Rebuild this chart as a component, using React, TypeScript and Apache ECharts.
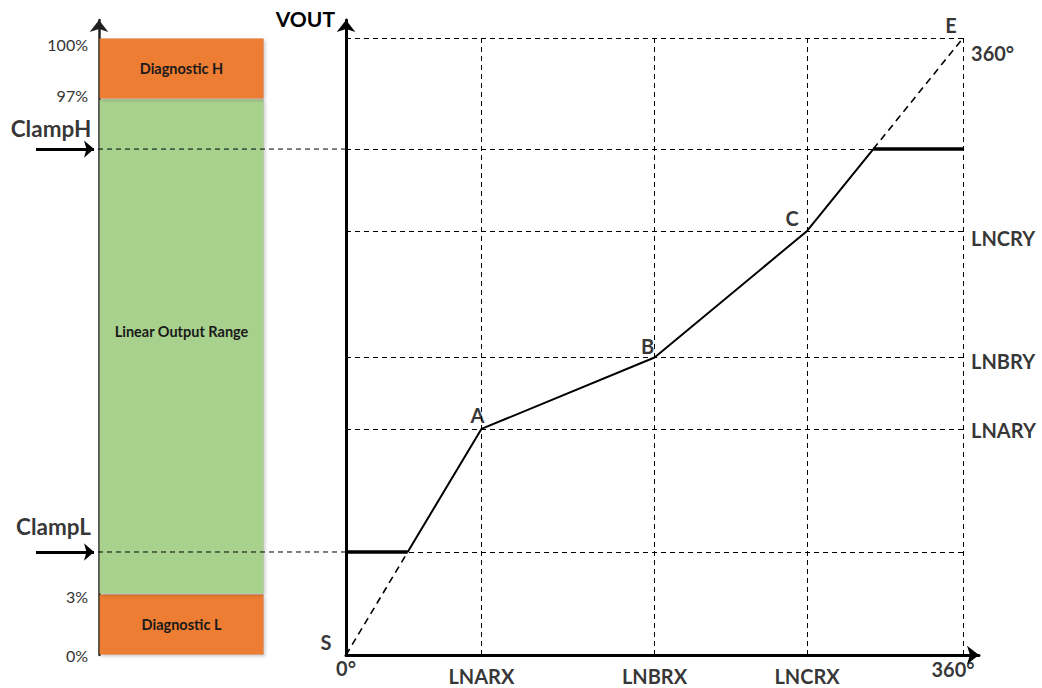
import React, { useEffect, useRef } from "react";
import * as echarts from "echarts";

// ---- data ----
const X_TICKS = [0, 79, 180, 269, 360];
const X_LABELS = ["0°", "LNARX", "LNBRX", "LNCRX", "360°"];

const Y_LEVELS = [360, 247.4, 173.6, 131.9];
const Y_LABELS = ["360°", "LNCRY", "LNBRY", "LNARY"];

const CLAMP_L = 60.1;
const CLAMP_H = 295.2;

const KNOT_NAMES = ["S", "A", "B", "C", "E"];
const KNOT_X = [0, 79, 180, 269, 360];
const KNOT_Y = [0, 131.9, 173.6, 247.4, 360];

const BAR_NAMES = ["Diagnostic L", "Linear Output Range", "Diagnostic H"];
const BAR_VALUES = [35.6, 288.8, 35.6];
const BAR_COLORS = ["#ED7D31", "#A9D18E", "#ED7D31"];

const PCT_TICKS = [0, 35.6, 324.4, 360];
const PCT_LABELS = ["0%", "3%", "97%", "100%"];

const CLAMP_NAMES = ["ClampH", "ClampL"];

const FONT = "Lato";

export default function App() {
  const ref = useRef<HTMLDivElement>(null);

  useEffect(() => {
    if (!ref.current) return;
    const chart = echarts.init(ref.current, null, { renderer: "svg" });

    const ax = KNOT_X[1], ay = KNOT_Y[1];
    const cx = KNOT_X[3], cy = KNOT_Y[3];
    const ex = KNOT_X[4], ey = KNOT_Y[4];
    // where the clamp levels cut the S-A and C-E segments
    const xL = (CLAMP_L * ax) / ay;
    const xH = cx + ((CLAMP_H - cy) * (ex - cx)) / (ey - cy);

    const bold = { fontFamily: FONT, fontWeight: "bold" as const, fontSize: 20, color: "#000" };

    const solidData = [[xL, CLAMP_L]]
      .concat([1, 2, 3].map((i) => [KNOT_X[i], KNOT_Y[i]]))
      .concat([[xH, CLAMP_H]]);

    const knotOffsets: Record<string, number[]> = {
      S: [-20, -13],
      A: [-4, -14],
      B: [-7, -11],
      C: [-15, -13],
      E: [-12, -13],
    };
    const rightOffsets = [15, 7, 4, 1];
    const xLabelOffsets = [
      [0, 13],
      [0, 21],
      [0, 21],
      [0, 21],
      [-10, 14],
    ];

    const gridLines: any[] = [];
    [Y_LEVELS[0], CLAMP_H, Y_LEVELS[1], Y_LEVELS[2], Y_LEVELS[3], CLAMP_L].forEach((v) =>
      gridLines.push([{ coord: [0, v] }, { coord: [360, v] }])
    );
    X_TICKS.slice(1).forEach((x) => gridLines.push([{ coord: [x, 0] }, { coord: [x, 360] }]));

    const pctPad = [
      [0, 0, 0, 0],
      [6, 0, 0, 0],
      [0, 0, 8, 0],
      [14, 0, 0, 0],
    ];

    const axisArrow = {
      show: true,
      symbol: ["none", "arrow"],
      symbolSize: [14, 12],
      lineStyle: { color: "#000", width: 3 },
    };

    const option: any = {
      animation: false,
      grid: [
        { left: 346, right: 63, top: 20, bottom: 33 },
        { left: 99, width: 165, top: 20, bottom: 33 },
        { left: 0, right: 0, top: 20, bottom: 33 },
      ],
      xAxis: [
        {
          gridIndex: 0,
          type: "value",
          min: 0,
          max: 369.3,
          axisLine: axisArrow,
          axisTick: { show: false },
          splitLine: { show: false },
          axisLabel: { show: false },
        },
        { gridIndex: 1, type: "category", data: ["out"], show: false },
        { gridIndex: 2, type: "value", min: 0, max: 1042, show: false },
      ],
      yAxis: [
        {
          gridIndex: 0,
          type: "value",
          min: 0,
          max: 370.5,
          name: "VOUT",
          nameLocation: "end",
          nameGap: 1.5,
          nameTextStyle: { ...bold, fontSize: 21, align: "right", verticalAlign: "middle", padding: [0, 11, 0, 0] },
          axisLine: axisArrow,
          axisTick: { show: false },
          splitLine: { show: false },
          axisLabel: { show: false },
        },
        {
          gridIndex: 1,
          type: "value",
          min: 0,
          max: 370.5,
          axisLine: { ...axisArrow, lineStyle: { color: "#222", width: 2.5 } },
          axisTick: { show: false },
          splitLine: { show: false },
          axisLabel: {
            customValues: PCT_TICKS,
            margin: 11,
            formatter: (v: number) => {
              const i = PCT_TICKS.indexOf(v);
              return "{p" + i + "|" + (PCT_LABELS[i] ?? "") + "}";
            },
            rich: Object.fromEntries(
              PCT_TICKS.map((_, i) => [
                "p" + i,
                { fontFamily: FONT, fontSize: 16, color: "#333", padding: pctPad[i] },
              ])
            ),
          },
        },
        { gridIndex: 2, type: "value", min: 0, max: 370.5, show: false },
      ],
      series: [
        // left bar
        ...BAR_NAMES.map((name, i) => ({
          type: "bar",
          name,
          xAxisIndex: 1,
          yAxisIndex: 1,
          stack: "bar",
          barWidth: "100%",
          data: [BAR_VALUES[i]],
          itemStyle: {
            color: BAR_COLORS[i],
            borderColor: "rgba(0,0,0,0.08)",
            borderWidth: 1,
            shadowBlur: 3,
            shadowColor: "rgba(0,0,0,0.18)",
            shadowOffsetX: 2,
            shadowOffsetY: 2,
          },
          label: {
            show: true,
            position: "inside",
            formatter: name,
            fontFamily: FONT,
            fontWeight: "bold",
            fontSize: 14.5,
            color: "#1a1a1a",
            offset: i === 1 ? [0, -15] : [0, 0],
          },
          z: 2,
        })),
        // solid transfer curve
        {
          type: "line",
          xAxisIndex: 0,
          yAxisIndex: 0,
          data: solidData,
          symbol: "none",
          lineStyle: { color: "#000", width: 2 },
          z: 4,
          markLine: {
            silent: true,
            symbol: ["none", "none"],
            label: { show: false },
            lineStyle: { color: "#000", width: 1, type: [5, 4] },
            data: gridLines,
            z: 3,
          },
        },
        // clamps
        {
          type: "line",
          xAxisIndex: 0,
          yAxisIndex: 0,
          data: [[0, CLAMP_L], [xL, CLAMP_L]],
          symbol: "none",
          lineStyle: { color: "#000", width: 3.5 },
          z: 4,
        },
        {
          type: "line",
          xAxisIndex: 0,
          yAxisIndex: 0,
          data: [[xH, CLAMP_H], [360, CLAMP_H]],
          symbol: "none",
          lineStyle: { color: "#000", width: 3.5 },
          z: 4,
        },
        // dashed unclamped parts
        {
          type: "line",
          xAxisIndex: 0,
          yAxisIndex: 0,
          data: [[KNOT_X[0], KNOT_Y[0]], [xL, CLAMP_L]],
          symbol: "none",
          lineStyle: { color: "#000", width: 1.6, type: [7, 5] },
          z: 4,
        },
        {
          type: "line",
          xAxisIndex: 0,
          yAxisIndex: 0,
          data: [[xH, CLAMP_H], [ex, ey]],
          symbol: "none",
          lineStyle: { color: "#000", width: 1.6, type: [7, 5] },
          z: 4,
        },
        // knot labels
        {
          type: "scatter",
          xAxisIndex: 0,
          yAxisIndex: 0,
          symbolSize: 0,
          silent: true,
          data: KNOT_NAMES.map((n, i) => ({
            value: [KNOT_X[i], KNOT_Y[i]],
            name: n,
            label: { offset: knotOffsets[n] },
          })),
          label: { show: true, position: "inside", formatter: "{b}", ...bold },
          z: 6,
        },
        // x-axis tick labels
        {
          type: "scatter",
          xAxisIndex: 0,
          yAxisIndex: 0,
          symbolSize: 0,
          silent: true,
          data: X_LABELS.map((n, i) => ({
            value: [X_TICKS[i], 0],
            name: n,
            label: { offset: xLabelOffsets[i] },
          })),
          label: { show: true, position: "inside", formatter: "{b}", ...bold },
          z: 6,
        },
        // right-side level labels
        {
          type: "scatter",
          xAxisIndex: 0,
          yAxisIndex: 0,
          symbolSize: 0,
          silent: true,
          data: Y_LABELS.map((n, i) => ({
            value: [360, Y_LEVELS[i]],
            name: n,
            label: { offset: [0, rightOffsets[i]] },
          })),
          label: { show: true, position: "right", distance: 8, formatter: "{b}", ...bold },
          z: 6,
        },
        // clamp extensions to the left bar (overlay grid)
        {
          type: "line",
          xAxisIndex: 2,
          yAxisIndex: 2,
          data: [[98, CLAMP_H], [346, CLAMP_H]],
          symbol: "none",
          lineStyle: { color: "#000", width: 1, type: [5, 4] },
          z: 5,
        },
        {
          type: "line",
          xAxisIndex: 2,
          yAxisIndex: 2,
          data: [[98, CLAMP_L], [346, CLAMP_L]],
          symbol: "none",
          lineStyle: { color: "#000", width: 1, type: [5, 4] },
          z: 5,
        },
        // clamp arrows + names
        {
          type: "scatter",
          xAxisIndex: 2,
          yAxisIndex: 2,
          symbolSize: 0,
          silent: true,
          data: CLAMP_NAMES.map((n, i) => ({
            value: [i === 0 ? 51 : 53.5, i === 0 ? CLAMP_H : CLAMP_L],
            name: n,
            label: { offset: [0, i === 0 ? -21 : -25] },
          })),
          label: { show: true, position: "inside", formatter: "{b}", ...bold, fontSize: 22.5 },
          markLine: {
            silent: true,
            symbol: ["none", "arrow"],
            symbolSize: [13, 10],
            label: { show: false },
            lineStyle: { color: "#000", width: 3, type: "solid" },
            data: [CLAMP_H, CLAMP_L].map((v) => [{ coord: [36, v] }, { coord: [94, v] }]),
          },
          z: 6,
        },
      ],
    };

    chart.setOption(option);
    return () => chart.dispose();
  }, []);

  return (
    <div
      ref={ref}
      style={{ position: "fixed", left: 0, top: 0, width: 1042, height: 688, background: "#fff" }}
    />
  );
}
